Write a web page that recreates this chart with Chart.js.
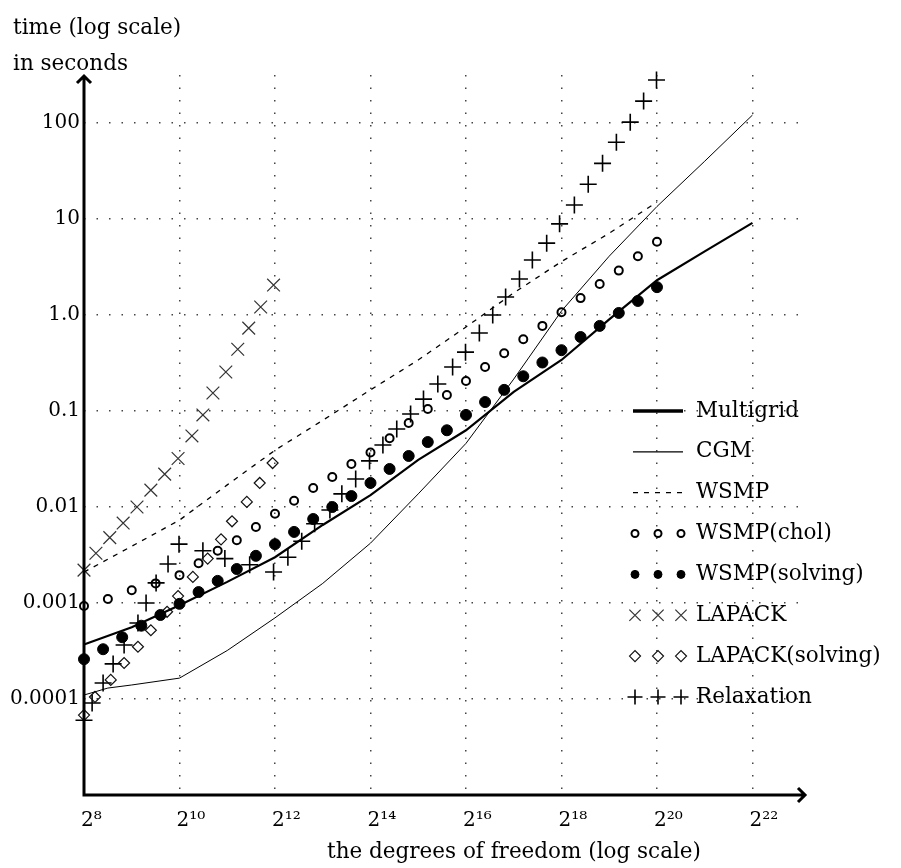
<!DOCTYPE html>
<html>
<head>
<meta charset="utf-8">
<script src="https://cdn.jsdelivr.net/npm/chart.js@4.4.1/dist/chart.umd.min.js"></script>
<style>
  html, body { margin: 0; padding: 0; background: #fff; }
  #wrap { width: 901px; height: 868px; }
</style>
</head>
<body>
<div id="wrap"><canvas id="timingChart" width="901" height="868"></canvas></div>
<script>
const FONT = "'DejaVu Serif', 'Liberation Serif', serif";

// axis ticks (x values are powers of two)
const xTickExps = [8, 10, 12, 14, 16, 18, 20, 22];
const xTickLabels = ["2⁸", "2¹⁰", "2¹²", "2¹⁴", "2¹⁶", "2¹⁸", "2²⁰", "2²²"];
const yTickValues = [0.0001, 0.001, 0.01, 0.1, 1, 10, 100];
const yTickLabels = ["0.0001", "0.001", "0.01", "0.1", "1.0", "10", "100"];

// Multigrid (thick line)
const multigridExp = [8, 9, 10, 11, 12, 13, 14, 15, 16, 17, 18, 19, 20, 21, 22];
const multigridTime = [0.00037, 0.00056, 0.00095, 0.00166, 0.003, 0.0065, 0.0133, 0.031, 0.063, 0.158, 0.34, 0.9, 2.3, 4.6, 9.1];

// CGM (thin line)
const cgmExp = [8, 8.5, 9, 10, 11, 12, 13, 14, 15, 16, 17, 18, 19, 20, 21, 22];
const cgmTime = [0.00011, 0.00013, 0.00014, 0.000165, 0.00032, 0.0007, 0.0016, 0.0042, 0.0137, 0.046, 0.215, 1.1, 4.1, 13.5, 40, 121];

// WSMP (dashed line)
const wsmpExp = [8, 9, 10, 11, 12, 13, 14, 15, 16, 17, 18, 19, 20];
const wsmpTime = [0.0021, 0.0039, 0.0073, 0.017, 0.039, 0.08, 0.166, 0.34, 0.75, 1.7, 3.6, 7.1, 15];

// WSMP(chol) open circles
const cholExp = [8, 8.5, 9, 9.5, 10, 10.4, 10.8, 11.2, 11.6, 12, 12.4, 12.8, 13.2, 13.6, 14,
  14.4, 14.8, 15.2, 15.6, 16, 16.4, 16.8, 17.2, 17.6, 18, 18.4, 18.8, 19.2, 19.6, 20];
const cholTime = [0.00093, 0.0011, 0.00136, 0.0016, 0.00195, 0.0026, 0.0035, 0.0045, 0.0062, 0.0085,
  0.0116, 0.0158, 0.0205, 0.028, 0.037, 0.052, 0.075, 0.105, 0.147, 0.205,
  0.287, 0.4, 0.56, 0.77, 1.07, 1.5, 2.1, 2.9, 4.1, 5.8];

// WSMP(solving) filled circles
const solveExp = [8, 8.4, 8.8, 9.2, 9.6, 10, 10.4, 10.8, 11.2, 11.6, 12, 12.4, 12.8, 13.2, 13.6, 14,
  14.4, 14.8, 15.2, 15.6, 16, 16.4, 16.8, 17.2, 17.6, 18, 18.4, 18.8, 19.2, 19.6, 20];
const solveTime = [0.00026, 0.00033, 0.00044, 0.00058, 0.00075, 0.00098, 0.0013, 0.0017, 0.00226, 0.0031,
  0.0041, 0.0055, 0.0075, 0.01, 0.013, 0.0178, 0.0249, 0.034, 0.0475, 0.063,
  0.091, 0.124, 0.166, 0.23, 0.32, 0.43, 0.59, 0.77, 1.05, 1.4, 1.95];

// LAPACK crosses
const lapackExp = [8, 8.25, 8.54, 8.82, 9.11, 9.4, 9.69, 9.97, 10.26, 10.49, 10.7, 10.97, 11.22, 11.45, 11.7, 11.97];
const lapackTime = [0.0022, 0.0033, 0.0048, 0.0068, 0.01, 0.015, 0.022, 0.032, 0.055, 0.091, 0.154, 0.255, 0.44, 0.73, 1.21, 2.05];

// LAPACK(solving) diamonds
const lapackSolveExp = [8, 8.23, 8.56, 8.84, 9.13, 9.4, 9.74, 9.97, 10.28, 10.59, 10.87, 11.1, 11.41, 11.68, 11.95];
const lapackSolveTime = [0.000068, 0.000105, 0.000158, 0.000237, 0.00035, 0.00052, 0.00081, 0.00118, 0.00187, 0.0029, 0.0046, 0.0071, 0.0113, 0.0178, 0.0287];

// Relaxation plus signs
const relaxExp = [8, 8.17, 8.4, 8.61, 8.84, 9.13, 9.3, 9.51, 9.76, 9.99, 10.49, 10.95, 11.47, 11.97,
  12.27, 12.56, 12.83, 13.15, 13.4, 13.69, 13.98, 14.26, 14.55, 14.84, 15.11, 15.41, 15.72, 15.99,
  16.28, 16.56, 16.83, 17.12, 17.39, 17.69, 17.96, 18.27, 18.56, 18.86, 19.15, 19.44, 19.72, 19.99];
const relaxTime = [0.00006, 0.000091, 0.000147, 0.000232, 0.000365, 0.00062, 0.001, 0.00162, 0.00255, 0.0041, 0.0035, 0.0029, 0.0025, 0.0021,
  0.003, 0.0044, 0.0067, 0.0093, 0.0137, 0.0196, 0.0302, 0.0442, 0.065, 0.093, 0.133, 0.191, 0.287, 0.41,
  0.65, 1.0, 1.54, 2.37, 3.74, 5.6, 8.9, 14, 23, 38, 63, 102, 169, 280];

function pairs(xs, ys) {
  return xs.map((x, i) => ({ x, y: ys[i] }));
}

function lineSet(label, xs, ys, width, dash, legendWidth) {
  return {
    label,
    data: pairs(xs, ys),
    showLine: true,
    borderColor: "#000",
    borderWidth: width,
    borderDash: dash,
    pointRadius: 0,
    tension: 0,
    clip: false,
    legendKind: "line",
    legendWidth,
  };
}

function pointSet(label, xs, ys, style, radius, lineWidth, fill, color, legendRadius) {
  return {
    label,
    data: pairs(xs, ys),
    showLine: false,
    pointStyle: style,
    pointRadius: radius,
    pointBorderWidth: lineWidth,
    pointBorderColor: color,
    pointBackgroundColor: fill,
    clip: false,
    legendKind: "points",
    legendRadius,
  };
}

function drawMarker(ctx, style, x, y, r, fill) {
  ctx.beginPath();
  if (style === "circle") {
    ctx.arc(x, y, r, 0, Math.PI * 2);
  } else if (style === "cross") {
    ctx.moveTo(x - r, y); ctx.lineTo(x + r, y);
    ctx.moveTo(x, y - r); ctx.lineTo(x, y + r);
  } else if (style === "crossRot") {
    const d = r * Math.SQRT1_2;
    ctx.moveTo(x - d, y - d); ctx.lineTo(x + d, y + d);
    ctx.moveTo(x + d, y - d); ctx.lineTo(x - d, y + d);
  } else if (style === "rectRot") {
    ctx.moveTo(x - r, y); ctx.lineTo(x, y - r);
    ctx.lineTo(x + r, y); ctx.lineTo(x, y + r);
    ctx.closePath();
  }
  if (fill && fill !== "rgba(0,0,0,0)") {
    ctx.fillStyle = fill;
    ctx.fill();
  }
  ctx.stroke();
}

const textFont = `21.5px ${FONT}`;

const decorPlugin = {
  id: "decor",
  afterDatasetsDraw(chart) {
    const { ctx, chartArea: a } = chart;
    ctx.save();

    // axes with arrow heads
    ctx.strokeStyle = "#000";
    ctx.lineWidth = 3;
    ctx.lineJoin = "miter";
    ctx.beginPath();
    ctx.moveTo(a.left, a.bottom + 1.5);
    ctx.lineTo(a.left, a.top + 1);
    ctx.moveTo(a.left - 7, a.top + 8);
    ctx.lineTo(a.left, a.top + 1);
    ctx.lineTo(a.left + 7, a.top + 8);
    ctx.moveTo(a.left - 1.5, a.bottom);
    ctx.lineTo(a.right, a.bottom);
    ctx.moveTo(a.right - 7, a.bottom - 7);
    ctx.lineTo(a.right, a.bottom);
    ctx.lineTo(a.right - 7, a.bottom + 7);
    ctx.stroke();

    // axis captions
    ctx.fillStyle = "#000";
    ctx.font = textFont;
    ctx.textBaseline = "middle";
    ctx.textAlign = "left";
    ctx.fillText("time (log scale)", 13, 28);
    ctx.fillText("in seconds", 13, 64);
    ctx.textAlign = "center";
    ctx.fillText("the degrees of freedom (log scale)", 514, 852);

    // legend
    const rowTop = 411;
    const rowStep = 40.85;
    const sampleLeft = 633;
    const sampleRight = 683;
    const markerXs = [635, 658, 681];
    chart.data.datasets.forEach((ds, i) => {
      const y = rowTop + i * rowStep;
      ctx.strokeStyle = "#000";
      if (ds.legendKind === "line") {
        ctx.lineWidth = ds.legendWidth;
        ctx.setLineDash(ds.borderDash || []);
        ctx.beginPath();
        ctx.moveTo(sampleLeft, y);
        ctx.lineTo(sampleRight, y);
        ctx.stroke();
        ctx.setLineDash([]);
      } else {
        ctx.lineWidth = ds.pointBorderWidth;
        ctx.strokeStyle = ds.pointBorderColor;
        markerXs.forEach((mx) => drawMarker(ctx, ds.pointStyle, mx, y, ds.legendRadius, ds.pointBackgroundColor));
      }
      ctx.fillStyle = "#000";
      ctx.textAlign = "left";
      ctx.fillText(ds.label, 696, y);
    });
    ctx.restore();
  },
};

const tickFont = { family: FONT, size: 20 };

new Chart(document.querySelector("#timingChart"), {
  type: "scatter",
  data: {
    datasets: [
      lineSet("Multigrid", multigridExp, multigridTime, 2.2, [], 3.5),
      lineSet("CGM", cgmExp, cgmTime, 1, [], 1.3),
      lineSet("WSMP", wsmpExp, wsmpTime, 1.3, [5, 6], 1.3),
      pointSet("WSMP(chol)", cholExp, cholTime, "circle", 4, 2, "rgba(0,0,0,0)", "#000", 3.5),
      pointSet("WSMP(solving)", solveExp, solveTime, "circle", 5.5, 1, "#000", "#000", 4),
      pointSet("LAPACK", lapackExp, lapackTime, "crossRot", 9, 1.2, "rgba(0,0,0,0)", "#333", 8),
      pointSet("LAPACK(solving)", lapackSolveExp, lapackSolveTime, "rectRot", 5.5, 1.2, "rgba(0,0,0,0)", "#111", 5.5),
      pointSet("Relaxation", relaxExp, relaxTime, "cross", 8.5, 1.6, "rgba(0,0,0,0)", "#000", 7.5),
    ],
  },
  options: {
    responsive: false,
    animation: false,
    devicePixelRatio: 1,
    layout: { padding: { top: 75, right: 96, bottom: 0, left: 0 } },
    plugins: {
      legend: { display: false },
      tooltip: { enabled: false },
    },
    scales: {
      x: {
        type: "linear",
        min: 8,
        max: 23.1,
        afterBuildTicks: (scale) => {
          scale.ticks = xTickExps.map((value) => ({ value }));
        },
        afterFit: (scale) => {
          scale.height = 73;
        },
        ticks: {
          callback: (value, index) => xTickLabels[index],
          align: "start",
          labelOffset: -3,
          padding: 14,
          font: tickFont,
          color: "#000",
          autoSkip: false,
          maxRotation: 0,
        },
        grid: {
          drawTicks: false,
          lineWidth: 1.5,
          color: (c) => (c.tick && c.tick.value === 8 ? "rgba(0,0,0,0)" : "#444"),
        },
        border: { display: false, dash: [1.5, 11] },
      },
      y: {
        type: "logarithmic",
        min: 0.00001,
        max: 316.2,
        afterBuildTicks: (scale) => {
          scale.ticks = yTickValues.map((value) => ({ value }));
        },
        afterFit: (scale) => {
          scale.width = 84;
        },
        ticks: {
          callback: (value, index) => yTickLabels[index],
          padding: 4,
          font: tickFont,
          color: "#000",
          autoSkip: false,
        },
        grid: {
          drawTicks: false,
          lineWidth: 1.5,
          color: "#444",
        },
        border: { display: false, dash: [1.5, 11] },
      },
    },
  },
  plugins: [decorPlugin],
});
</script>
</body>
</html>
